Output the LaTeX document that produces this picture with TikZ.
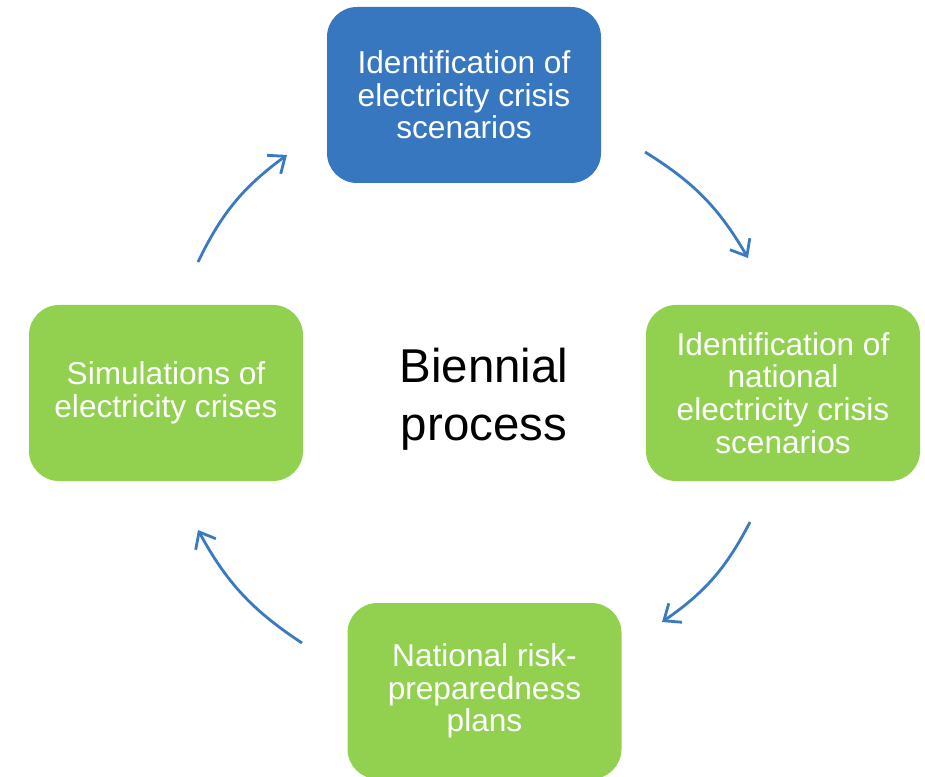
\documentclass[tikz,border=0pt]{standalone}
\usepackage{fontspec}
\setmainfont{Liberation Sans}
\usetikzlibrary{arrows.meta}
\definecolor{boxblue}{RGB}{55,119,191}
\definecolor{boxgreen}{RGB}{146,208,80}
\definecolor{arrowblue}{RGB}{58,122,194}
\begin{document}
\begin{tikzpicture}[stage/.style={fill=boxgreen, rounded corners=0.6cm, minimum width=5.48cm, minimum height=3.52cm, align=center, text=white, font=\fontsize{18}{18.6}\selectfont, inner sep=0pt},
  cyc/.style={draw=arrowblue, line width=1.6pt, -{Straight Barb[length=2.8mm,width=4.6mm]}, bend left=14}]
\useasboundingbox (0,0) rectangle (18.5,15.52);

\node[stage, fill=boxblue] (scen) at (9.28,13.62) {Identification of\\electricity crisis\\scenarios};
\node[stage] (natscen) at (15.66,7.66) {Identification of\\national\\electricity crisis\\scenarios};
\node[stage] (plans) at (9.69,1.70) {National risk-\\preparedness\\plans};
\node[stage] (sim) at (3.32,7.66) {Simulations of\\electricity crises};

\node[align=center, font=\fontsize{27}{33}\selectfont] (hub) at (9.68,7.54) {Biennial\\process};

\coordinate (a1) at (12.90,12.48);
\coordinate (b1) at (14.96,10.36);
\coordinate (a2) at (15.00,5.08);
\coordinate (b2) at (13.24,3.08);
\coordinate (a3) at (6.04,2.66);
\coordinate (b3) at (3.96,4.92);
\coordinate (a4) at (3.96,10.28);
\coordinate (b4) at (5.74,12.42);

\draw[cyc] (a1) to (b1);
\draw[cyc] (a2) to (b2);
\draw[cyc] (a3) to (b3);
\draw[cyc] (a4) to (b4);
\end{tikzpicture}
\end{document}
